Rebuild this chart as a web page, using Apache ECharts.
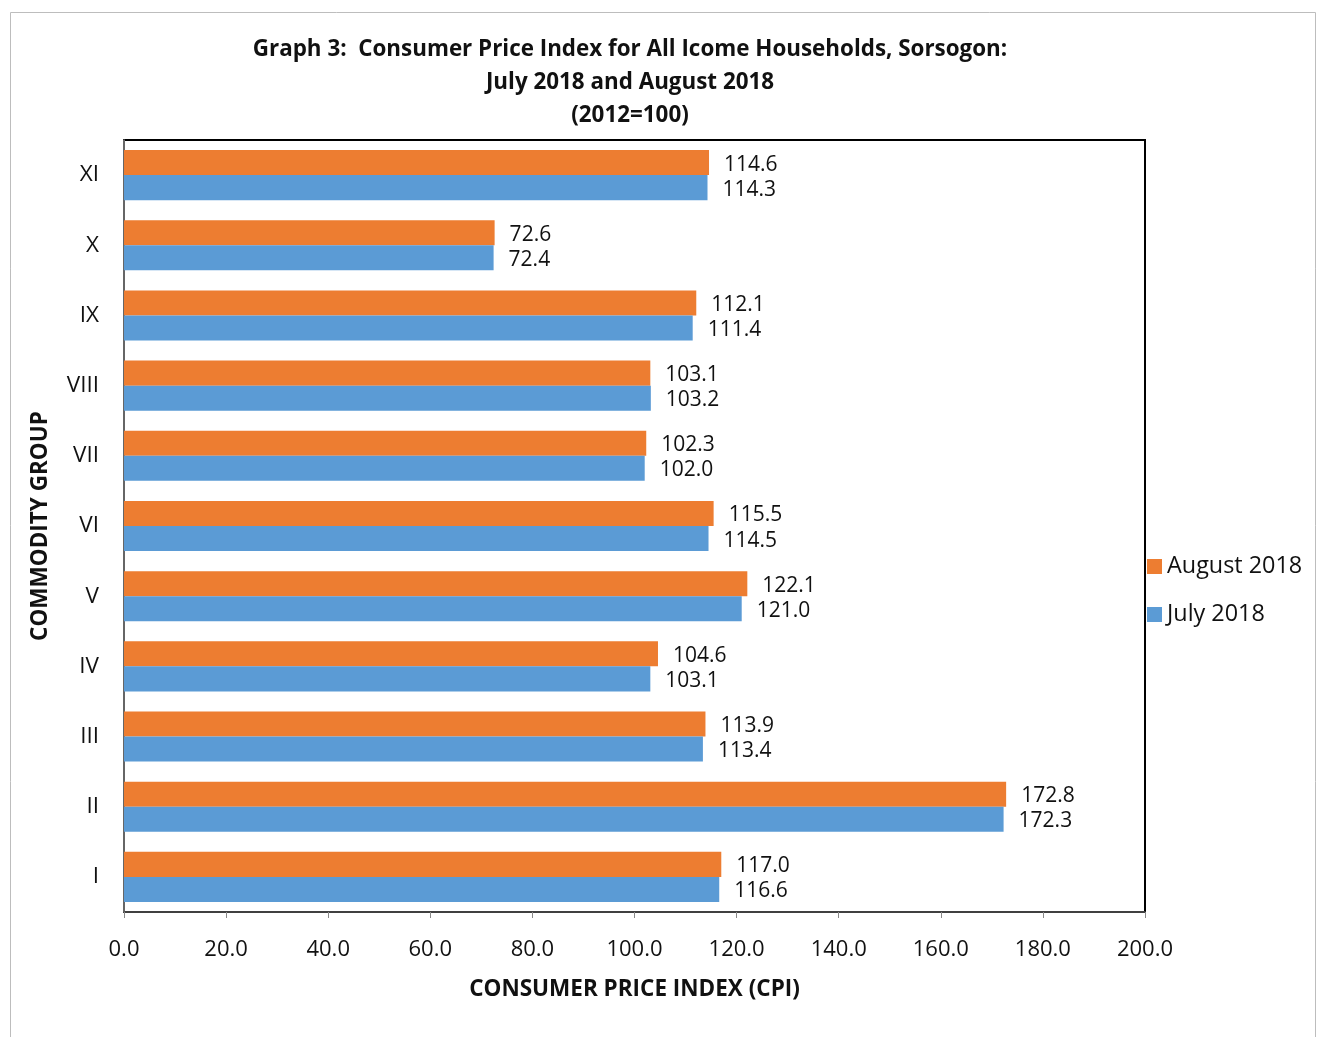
<!DOCTYPE html>
<html><head><meta charset="utf-8">
<script src="https://cdn.jsdelivr.net/npm/echarts@6/dist/echarts.min.js"></script>
<style>html,body{margin:0;padding:0;background:#fff}#c{width:1320px;height:1037px}</style>
</head><body><div id="c"></div>
<script>
const categories = ['I','II','III','IV','V','VI','VII','VIII','IX','X','XI'];
const august2018 = [117.0,172.8,113.9,104.6,122.1,115.5,102.3,103.1,112.1,72.6,114.6];
const july2018 = [116.6,172.3,113.4,103.1,121.0,114.5,102.0,103.2,111.4,72.4,114.3];
const xTicks = {min:0,max:200,interval:20};
const FONT = '"Open Sans", Lato, sans-serif';
const chart = echarts.init(document.getElementById('c'));
const lbl = {show:true,position:'right',distance:15,offset:[0,2],fontSize:21,color:'#111',fontFamily:FONT,formatter:p=>p.value.toFixed(1)};
chart.setOption({
  animation:false,
  textStyle:{fontFamily:FONT},
  graphic:[{type:'rect',shape:{x:10.5,y:12.5,width:1305,height:1040},style:{fill:'none',stroke:'#bdbdbd',lineWidth:1},z:-10}],
  title:{text:'Graph 3:  Consumer Price Index for All Icome Households, Sorsogon:\nJuly 2018 and August 2018\n(2012=100)',
    left:625,textAlign:'center',top:28,textStyle:{fontSize:22.4,fontWeight:'bold',color:'#111',lineHeight:33,fontFamily:FONT}},
  legend:{orient:'vertical',left:1142,top:550,itemWidth:15,itemHeight:15,itemGap:25,
    data:['August 2018','July 2018'],textStyle:{fontSize:23.4,color:'#111',fontFamily:FONT},icon:'rect'},
  grid:{left:124,right:175,top:140,bottom:125,show:true,borderColor:'#000',borderWidth:2},
  xAxis:{type:'value',min:xTicks.min,max:xTicks.max,interval:xTicks.interval,
    name:'CONSUMER PRICE INDEX (CPI)',nameLocation:'middle',nameGap:66,
    nameTextStyle:{fontSize:22.5,fontWeight:'bold',color:'#111',fontFamily:FONT},
    axisLine:{show:true,lineStyle:{color:'#555',width:1.5}},axisTick:{show:true,length:6,lineStyle:{color:'#888'}},
    splitLine:{show:false},
    axisLabel:{fontSize:22,color:'#111',margin:27,formatter:v=>v.toFixed(1),fontFamily:FONT}},
  yAxis:{type:'category',data:categories,
    name:'COMMODITY GROUP',nameLocation:'middle',nameGap:72,nameRotate:90,
    nameTextStyle:{fontSize:22.5,fontWeight:'bold',color:'#111',fontFamily:FONT},
    axisLine:{show:true,lineStyle:{color:'#888',width:1.5}},axisTick:{show:false},
    axisLabel:{fontSize:22.5,color:'#111',margin:25,padding:[5,0,0,0],fontFamily:FONT}},
  series:[
    {name:'August 2018',type:'bar',data:august2018,itemStyle:{color:'#ED7D31'},barGap:'0%',barCategoryGap:'28.6%',label:lbl},
    {name:'July 2018',type:'bar',data:july2018,itemStyle:{color:'#5B9BD5'},barGap:'0%',barCategoryGap:'28.6%',label:lbl}
  ]
});
</script></body></html>
